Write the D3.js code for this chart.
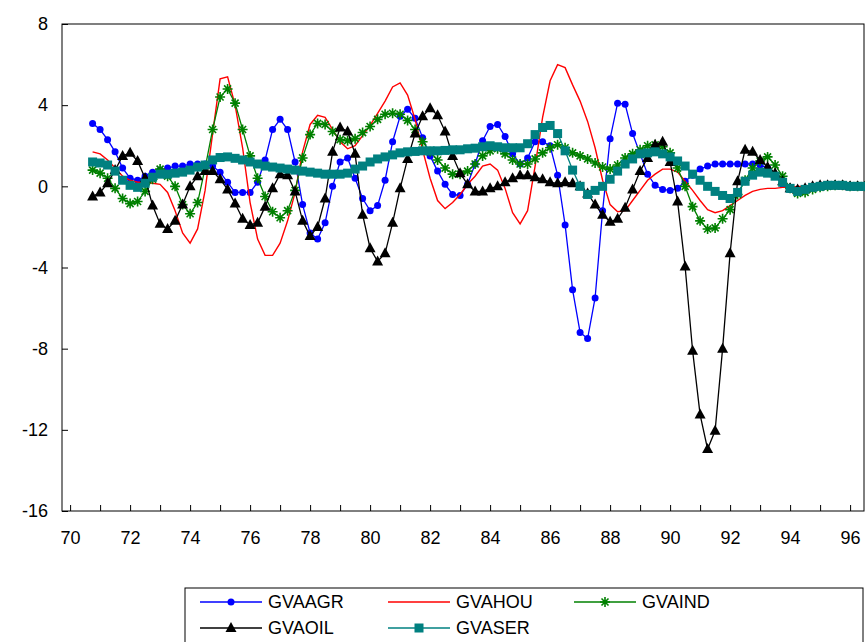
<!DOCTYPE html>
<html>
<head>
<meta charset="utf-8">
<script src="https://d3js.org/d3.v7.min.js"></script>
<style>
  body { margin: 0; background: #fff; }
  text { font-family: "Liberation Sans", Arial, sans-serif; }
</style>
</head>
<body>
<svg id="chart" width="865" height="642"></svg>
<script>
// quarterly data, starting 1970 Q3
var startYear = 70.75;
var gvaagr = [3.1,2.8,2.3,1.7,0.9,0.4,0.3,0.5,0.7,0.8,0.9,1.0,1.0,1.1,1.1,1.1,1.0,0.7,0.2,-0.3,-0.3,-0.3,0.2,1.3,2.8,3.3,2.8,1.2,-0.9,-2.3,-2.6,-1.8,0.0,1.2,1.4,0.4,-0.6,-1.2,-0.95,0.3,2.2,3.45,3.8,3.35,2.4,1.5,0.75,0.1,-0.4,-0.45,0.1,1.1,2.25,2.95,3.05,2.45,1.6,1.1,1.4,2.2,2.2,2.0,0.55,-1.9,-5.1,-7.2,-7.5,-5.5,-1.2,2.35,4.1,4.05,2.6,1.6,0.6,0.05,-0.15,-0.2,-0.1,0.25,0.55,0.85,1.0,1.1,1.1,1.1,1.1,1.1,1.1,1.05,0.9,0.5,0.1,-0.15,-0.2,-0.1,0.0,0.05,0.05,0.05,0.0,0.0,0.0,0.0];
var gvahou = [1.7,1.6,1.3,0.9,0.5,0.3,0.2,0.2,0.15,0.1,-0.3,-1.2,-2.3,-2.8,-2.1,-0.2,2.6,5.3,5.4,4.0,1.9,-0.8,-2.6,-3.4,-3.4,-2.8,-1.7,-0.3,1.7,3.05,3.5,3.4,2.8,2.2,1.85,2.0,2.5,3.0,3.6,4.2,4.9,5.1,4.5,3.3,1.8,0.4,-0.7,-1.1,-0.8,-0.4,0.1,0.5,1.0,1.1,0.8,-0.1,-1.3,-1.85,-1.2,1.0,3.4,5.2,6.0,5.85,5.0,4.2,3.2,1.9,0.3,-0.9,-1.25,-1.2,-0.7,-0.2,0.3,0.6,0.85,0.85,0.7,0.25,-0.2,-0.7,-1.15,-1.3,-1.2,-0.95,-0.7,-0.45,-0.25,-0.15,-0.1,-0.1,-0.05,-0.05,0.0,0.0,0.0,0.0,0.0,0.0,0.0,0.0,0.0,0.0];
var gvaind = [0.8,0.65,0.4,-0.1,-0.6,-0.85,-0.75,-0.25,0.35,0.85,0.5,0.0,-0.9,-1.35,-0.8,0.9,2.8,4.4,4.8,4.1,2.8,1.5,0.4,-0.5,-1.25,-1.55,-1.2,-0.2,1.4,2.55,3.1,3.05,2.7,2.3,2.25,2.35,2.65,2.95,3.3,3.55,3.6,3.55,3.25,2.8,2.2,1.7,1.3,0.9,0.6,0.6,0.75,1.1,1.5,1.75,1.85,1.6,1.3,1.1,1.1,1.35,1.65,1.9,2.05,1.9,1.65,1.5,1.35,1.15,0.95,0.85,1.05,1.4,1.6,1.8,2.0,2.05,1.95,1.65,0.9,0.0,-1.0,-1.7,-2.1,-2.05,-1.6,-1.15,-0.4,0.3,0.9,1.25,1.45,1.05,0.5,-0.1,-0.35,-0.3,-0.15,-0.05,0.0,0.05,0.05,0.0,0.0,0.0];
var gvaoil = [-0.5,-0.3,0.15,0.8,1.5,1.65,1.25,0.4,-0.95,-1.85,-2.1,-1.7,-0.9,0.0,0.5,0.75,0.75,0.35,-0.15,-0.85,-1.6,-1.9,-1.8,-1.0,-0.1,0.6,0.55,-0.25,-1.7,-2.45,-2.0,-0.6,1.7,2.9,2.7,1.6,-1.4,-3.05,-3.7,-3.3,-1.8,-0.1,1.35,2.6,3.45,3.85,3.5,2.7,1.5,0.65,0.1,-0.25,-0.25,-0.1,0.0,0.2,0.4,0.55,0.55,0.45,0.35,0.2,0.15,0.2,0.15,0.0,-0.35,-0.9,-1.4,-1.75,-1.6,-1.05,-0.15,0.75,1.4,2.05,2.2,1.2,-0.75,-3.95,-8.1,-11.25,-12.95,-12.05,-8.0,-3.3,0.25,1.8,1.7,1.3,0.95,0.65,0.25,-0.1,-0.15,-0.1,0.0,0.05,0.05,0.05,0.05,0.0,0.0,0.0];
var gvaser = [1.2,1.15,1.05,0.75,0.3,0.05,-0.05,0.15,0.45,0.6,0.6,0.65,0.7,0.8,0.95,1.05,1.3,1.42,1.45,1.38,1.3,1.2,1.1,1.0,0.95,0.9,0.85,0.8,0.75,0.7,0.65,0.6,0.6,0.6,0.65,0.85,1.0,1.2,1.35,1.45,1.55,1.65,1.7,1.72,1.75,1.75,1.75,1.77,1.8,1.8,1.85,1.88,1.95,2.0,1.95,1.9,1.9,1.9,2.1,2.55,2.9,3.0,2.6,1.75,0.8,0.0,-0.4,-0.2,0.0,0.35,0.75,1.1,1.35,1.6,1.65,1.7,1.6,1.45,1.25,1.0,0.6,0.3,0.0,-0.25,-0.45,-0.6,-0.3,0.25,0.55,0.7,0.65,0.5,0.2,-0.1,-0.25,-0.15,-0.05,0.0,0.05,0.05,0.05,0.0,0.0,0.0];
var yTicks = [8,4,0,-4,-8,-12,-16];
var xTicks = [70,72,74,76,78,80,82,84,86,88,90,92,94,96];

var svg = d3.select("#chart");
var pLeft = 62, pRight = 864, pTop = 24, pBottom = 511;

var x = d3.scaleLinear().domain([69.73, 96.5]).range([pLeft, pLeft + (96.5 - 69.73) * 30]);
var y = d3.scaleLinear().domain([-16, 8]).range([pBottom, pTop]);

// frame
svg.append("rect").attr("x", pLeft).attr("y", pTop).attr("width", pRight - pLeft).attr("height", pBottom - pTop)
  .attr("fill", "none").attr("stroke", "#000").attr("stroke-width", 1);

// y axis
svg.append("g").attr("transform", "translate(" + pLeft + ",0)")
  .call(d3.axisLeft(y).tickValues(yTicks).tickSize(-6).tickPadding(14).tickFormat(function(d){ return String(d); }))
  .call(function(g){ g.select(".domain").remove(); g.selectAll("text").attr("font-size", 18).attr("fill", "#000"); });

// x axis: year minor ticks, labelled every 2 years
var years = d3.range(70, 97);
svg.append("g").attr("transform", "translate(0," + pBottom + ")")
  .call(d3.axisBottom(x).tickValues(years).tickSize(-6).tickPadding(20)
    .tickFormat(function(d){ return xTicks.indexOf(d) >= 0 ? d : ""; }))
  .call(function(g){ g.select(".domain").remove(); g.selectAll("text").attr("font-size", 18).attr("fill", "#000"); });

var series = [
  { name: "GVAAGR", data: gvaagr, color: "#0000ff", marker: "circle" },
  { name: "GVAHOU", data: gvahou, color: "#ff0000", marker: null },
  { name: "GVAIND", data: gvaind, color: "#008000", marker: "star" },
  { name: "GVAOIL", data: gvaoil, color: "#000000", marker: "triangle" },
  { name: "GVASER", data: gvaser, color: "#008080", marker: "square" }
];

svg.append("clipPath").attr("id", "clip").append("rect")
  .attr("x", pLeft).attr("y", pTop).attr("width", pRight - pLeft + 2).attr("height", pBottom - pTop);
var plot = svg.append("g").attr("clip-path", "url(#clip)");

function drawMarker(g, type, color) {
  if (type === "circle") {
    g.append("circle").attr("r", 3.5).attr("fill", color);
  } else if (type === "square") {
    g.append("rect").attr("x", -4.5).attr("y", -4.5).attr("width", 9).attr("height", 9).attr("fill", color);
  } else if (type === "triangle") {
    g.append("path").attr("d", "M0,-6L5.5,4L-5.5,4Z").attr("fill", color);
  } else if (type === "star") {
    g.append("path").attr("d", "M-5,0L5,0M0,-5L0,5M-3.5,-3.5L3.5,3.5M-3.5,3.5L3.5,-3.5")
      .attr("stroke", color).attr("stroke-width", 1.6);
  }
}

var line = d3.line().x(function(d, i){ return x(startYear + i * 0.25); }).y(function(d){ return y(d); });

series.forEach(function(s) {
  plot.append("path").datum(s.data).attr("d", line).attr("fill", "none")
    .attr("stroke", s.color).attr("stroke-width", s.marker ? 1.3 : 1.4);
  if (s.marker) {
    s.data.forEach(function(d, i) {
      var g = plot.append("g").attr("transform", "translate(" + x(startYear + i * 0.25) + "," + y(d) + ")");
      drawMarker(g, s.marker, s.color);
    });
  }
});

// legend
var lg = svg.append("g");
lg.append("rect").attr("x", 185).attr("y", 588).attr("width", 678).attr("height", 60)
  .attr("fill", "#fff").attr("stroke", "#000");
var legendPos = [[200, 602], [388, 602], [574, 602], [200, 628], [388, 628]];
series.forEach(function(s, k) {
  var px = legendPos[k][0], py = legendPos[k][1];
  lg.append("line").attr("x1", px).attr("x2", px + 62).attr("y1", py).attr("y2", py)
    .attr("stroke", s.color).attr("stroke-width", 1.4);
  if (s.marker) {
    var g = lg.append("g").attr("transform", "translate(" + (px + 31) + "," + py + ")");
    drawMarker(g, s.marker, s.color);
  }
  lg.append("text").attr("x", px + 68).attr("y", py + 6).attr("font-size", 18).text(s.name);
});
</script>
</body>
</html>
